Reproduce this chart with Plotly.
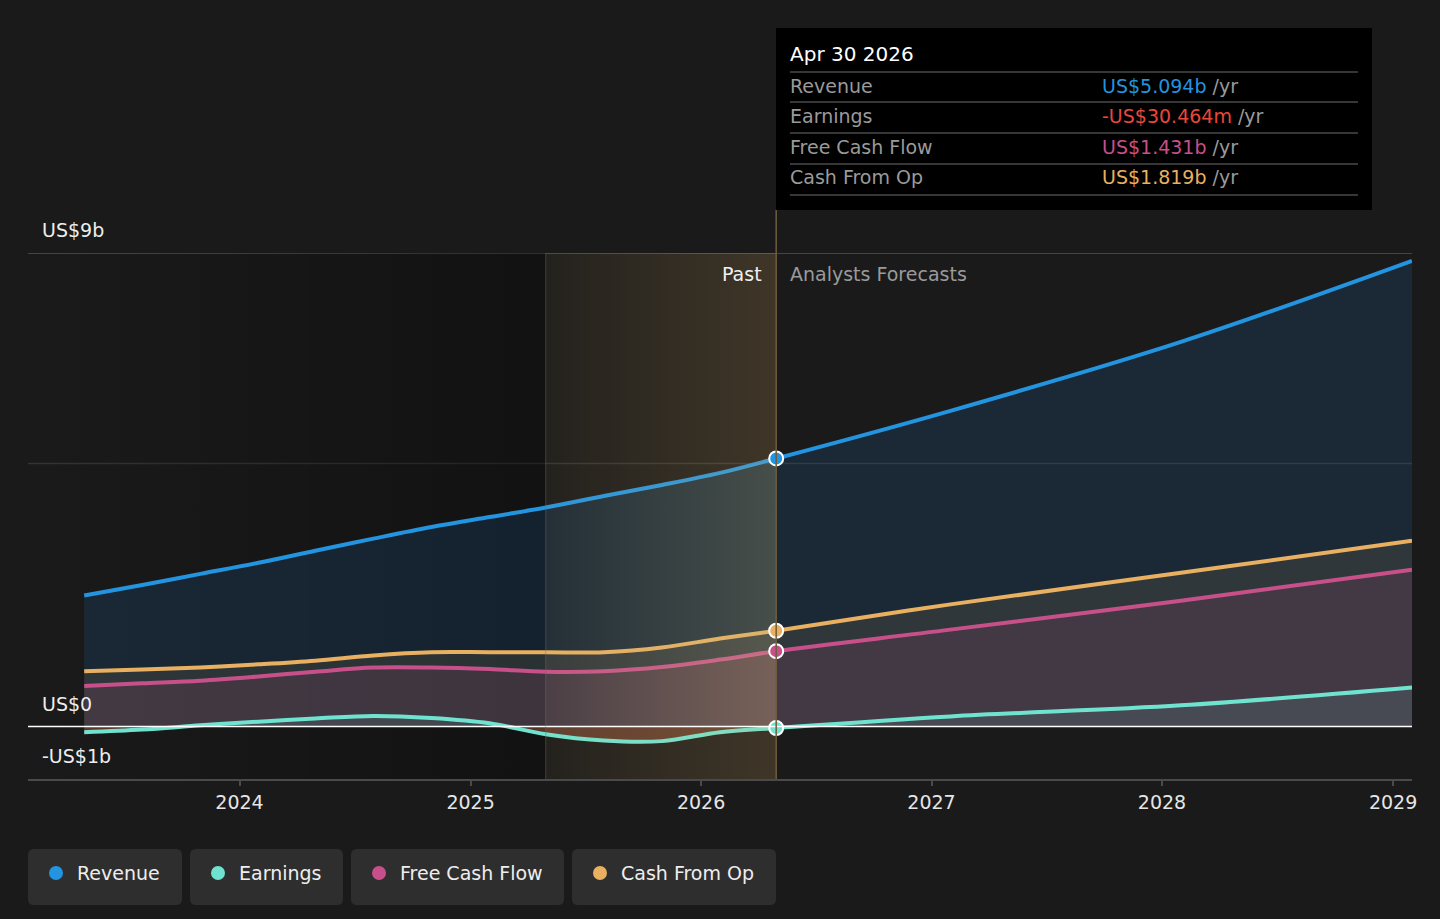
import plotly.graph_objects as go

# quarterly history + analyst forecasts (values in US$ billions)
past_dates = ["2023-04-30", "2023-07-31", "2023-10-31", "2024-01-31", "2024-04-30",
              "2024-07-31", "2024-10-31", "2025-01-31", "2025-04-30", "2025-07-31",
              "2025-10-31", "2026-01-31", "2026-04-30"]
forecast_dates = ["2027-01-31", "2028-01-31", "2029-01-31"]
dates = past_dates + forecast_dates

revenue = [2.49, 2.69, 2.90, 3.11, 3.34, 3.57, 3.79, 3.98, 4.16, 4.38, 4.59, 4.82, 5.094,
           6.00, 7.31, 8.85]
earnings = [-0.11, -0.06, 0.02, 0.09, 0.15, 0.20, 0.16, 0.06, -0.15, -0.27, -0.28, -0.11, -0.030464,
            0.19, 0.40, 0.74]
free_cash_flow = [0.77, 0.82, 0.87, 0.95, 1.04, 1.12, 1.12, 1.09, 1.04, 1.05, 1.13, 1.27, 1.431,
                  1.84, 2.39, 2.98]
cash_from_op = [1.05, 1.08, 1.12, 1.18, 1.25, 1.35, 1.41, 1.41, 1.41, 1.41, 1.50, 1.67, 1.819,
                2.32, 2.92, 3.53]

x_start, x_end = "2023-01-31", "2029-01-31"
band_start, now = "2025-04-30", "2026-04-30"
y_min, y_max = -1, 9
year_ticks = ["2024-01-01", "2025-01-01", "2026-01-01", "2027-01-01", "2028-01-01", "2029-01-01"]
year_labels = ["2024", "2025", "2026", "2027", "2028", "2029"]

BG = "#1a1a1a"
C_REV, C_EARN, C_FCF, C_CFO = "#2394df", "#6fe3d0", "#c7508a", "#e8b060"
FONT = "DejaVu Sans"

W, H = 1440, 919
L, R, T, B = 28, 28, 253, 140


def pxx(x):
    return (x - L) / (W - L - R)


def pxy(y):
    return (H - B - y) / (H - T - B)


def rounded(x0, y0, x1, y1, r):
    X, Y = pxx, pxy
    return (f"M {X(x0 + r)},{Y(y0)} L {X(x1 - r)},{Y(y0)} Q {X(x1)},{Y(y0)} {X(x1)},{Y(y0 + r)} "
            f"L {X(x1)},{Y(y1 - r)} Q {X(x1)},{Y(y1)} {X(x1 - r)},{Y(y1)} "
            f"L {X(x0 + r)},{Y(y1)} Q {X(x0)},{Y(y1)} {X(x0)},{Y(y1 - r)} "
            f"L {X(x0)},{Y(y0 + r)} Q {X(x0)},{Y(y0)} {X(x0 + r)},{Y(y0)} Z")


def money(v):
    sign = "-" if v < 0 else ""
    v = abs(v)
    if v < 1:
        return f"{sign}US${v * 1000:.3f}m"
    return f"{sign}US${v:.3f}b"


SPLINE = dict(shape="spline", smoothing=1.0)
fig = go.Figure()

# darker past background
fig.add_trace(go.Scatter(
    x=[x_start, band_start, band_start, x_start, x_start], y=[y_min, y_min, y_max, y_max, y_min],
    mode="none", fill="toself", hoverinfo="skip", showlegend=False,
    fillgradient=dict(type="horizontal",
                      colorscale=[[0, "rgba(0,0,0,0)"], [1, "rgba(0,0,0,0.32)"]])))


def area(y, color, fillcolor):
    fig.add_trace(go.Scatter(
        x=dates, y=y, mode="lines", line=dict(color=color, width=4, **SPLINE),
        fill="tozeroy", fillcolor=fillcolor, hoverinfo="skip", showlegend=False))


area(revenue, C_REV, "rgba(30,110,180,0.18)")
area(cash_from_op, C_CFO, "rgba(232,176,96,0.11)")
area(free_cash_flow, C_FCF, "rgba(199,80,138,0.13)")

neg_earn = [min(v, 0) for v in earnings]
fig.add_trace(go.Scatter(
    x=dates, y=neg_earn, mode="none", line=SPLINE,
    fill="tozeroy", fillcolor="rgba(200,60,30,0.38)", hoverinfo="skip", showlegend=False))
area(earnings, C_EARN, "rgba(111,227,208,0.10)")

# past-year highlight: brighten the filled areas, then tint the whole band
i0, i_now = dates.index(band_start), dates.index(now)
band_x = dates[i0:i_now + 1]


def band_boost(y, rgb, a):
    fig.add_trace(go.Scatter(
        x=band_x, y=y[i0:i_now + 1], mode="none", line=SPLINE, fill="tozeroy",
        hoverinfo="skip", showlegend=False,
        fillgradient=dict(type="horizontal",
                          colorscale=[[0, f"rgba({rgb},0)"], [1, f"rgba({rgb},{a})"]])))


band_boost(revenue, "120,190,210", 0.10)
band_boost(free_cash_flow, "230,130,110", 0.14)

fig.add_trace(go.Scatter(
    x=[band_start, now, now, band_start, band_start], y=[y_min, y_min, y_max, y_max, y_min],
    mode="none", fill="toself", hoverinfo="skip", showlegend=False,
    fillgradient=dict(type="horizontal",
                      colorscale=[[0, "rgba(230,180,100,0.05)"], [1, "rgba(230,180,100,0.18)"]])))

# markers at the current point
fig.add_trace(go.Scatter(
    x=[now] * 4,
    y=[revenue[i_now], cash_from_op[i_now], free_cash_flow[i_now], earnings[i_now]],
    mode="markers", hoverinfo="skip", showlegend=False,
    marker=dict(size=14, color=[C_REV, C_CFO, C_FCF, C_EARN], line=dict(color="white", width=2))))

shapes = [
    dict(type="line", xref="paper", yref="y", x0=0, x1=1, y0=9, y1=9, line=dict(color="#555", width=1.5), layer="below"),
    dict(type="line", xref="paper", yref="y", x0=0, x1=1, y0=5, y1=5, line=dict(color="#333", width=1.5), layer="below"),
    dict(type="line", xref="paper", yref="y", x0=0, x1=1, y0=0, y1=0, line=dict(color="white", width=1.5), layer="above"),
    dict(type="line", xref="x", yref="y", x0=band_start, x1=band_start, y0=y_min, y1=y_max,
         line=dict(color="rgba(120,110,95,0.45)", width=1), layer="above"),
    dict(type="line", xref="x", yref="paper", x0=now, x1=now, y0=0, y1=pxy(210),
         line=dict(color="#6e5d3e", width=1.5), layer="above"),
    # tooltip
    dict(type="rect", xref="paper", yref="paper", x0=pxx(776), x1=pxx(1372), y0=pxy(210), y1=pxy(28),
         fillcolor="#000", line=dict(width=0), layer="above"),
]
for sy in [72, 102, 133, 164, 195]:
    shapes.append(dict(type="line", xref="paper", yref="paper", x0=pxx(790), x1=pxx(1358),
                       y0=pxy(sy), y1=pxy(sy), line=dict(color="#4a4a4a", width=1.5), layer="above"))

annotations = [
    dict(text="US$9b", x=pxx(40), y=pxy(243)),
    dict(text="US$0", x=pxx(40), y=pxy(717)),
    dict(text="-US$1b", x=pxx(40), y=pxy(769)),
]
for a in annotations:
    a.update(xref="paper", yref="paper", xanchor="left", yanchor="bottom", showarrow=False,
             font=dict(size=19, color="#eeeeee", family=FONT))

annotations += [
    dict(text="Past", x=pxx(764), y=pxy(274), xanchor="right", font=dict(size=19, color="#f0f0f0", family=FONT)),
    dict(text="Analysts Forecasts", x=pxx(788), y=pxy(274), xanchor="left", font=dict(size=19, color="#9a9a9a", family=FONT)),
    dict(text="Apr 30 2026", x=pxx(788), y=pxy(54), xanchor="left", font=dict(size=20, color="#ffffff", family=FONT)),
]

tip_rows = [
    ("Revenue", revenue[i_now], C_REV),
    ("Earnings", earnings[i_now], "#e8473c" if earnings[i_now] < 0 else C_EARN),
    ("Free Cash Flow", free_cash_flow[i_now], C_FCF),
    ("Cash From Op", cash_from_op[i_now], C_CFO),
]
for (name, val, col), ry in zip(tip_rows, [86, 116, 147, 177]):
    annotations.append(dict(text=name, x=pxx(788), y=pxy(ry), xanchor="left",
                            font=dict(size=19, color="#9a9a9a", family=FONT)))
    annotations.append(dict(text=f'<span style="color:{col}">{money(val)}</span> /yr',
                            x=pxx(1100), y=pxy(ry), xanchor="left",
                            font=dict(size=19, color="#9a9a9a", family=FONT)))

# legend chips
legend_items = [("Revenue", C_REV, 28, 182), ("Earnings", C_EARN, 190, 343),
                ("Free Cash Flow", C_FCF, 351, 564), ("Cash From Op", C_CFO, 572, 776)]
for name, col, bx0, bx1 in legend_items:
    shapes.append(dict(type="path", xref="paper", yref="paper", path=rounded(bx0, 849, bx1, 905, 6),
                       fillcolor="#2e2e2e", line=dict(width=0), layer="above"))
    shapes.append(dict(type="circle", xref="paper", yref="paper",
                       x0=pxx(bx0 + 21), x1=pxx(bx0 + 35), y0=pxy(880), y1=pxy(866),
                       fillcolor=col, line=dict(width=0), layer="above"))
    annotations.append(dict(text=name, x=pxx(bx0 + 47), y=pxy(873), xanchor="left",
                            font=dict(size=19, color="#eeeeee", family=FONT)))

for a in annotations:
    a.setdefault("xref", "paper")
    a.setdefault("yref", "paper")
    a.setdefault("showarrow", False)
    a.setdefault("yanchor", "middle")

fig.update_layout(
    width=W, height=H,
    margin=dict(l=L, r=R, t=T, b=B),
    paper_bgcolor=BG, plot_bgcolor=BG,
    font=dict(family=FONT, color="#eeeeee"),
    hovermode=False,
    shapes=shapes,
    annotations=annotations,
    xaxis=dict(type="date", range=[x_start, x_end], tickvals=year_ticks, ticktext=year_labels,
               showgrid=False, zeroline=False, showline=True, linecolor="#4a4a4a", linewidth=1.5,
               ticks="outside", ticklen=5, tickcolor="#4a4a4a", tickwidth=1.5,
               tickfont=dict(size=19, color="#e6e6e6", family=FONT), fixedrange=True),
    yaxis=dict(range=[y_min, y_max], showgrid=False, zeroline=False, showticklabels=False,
               showline=False, fixedrange=True),
)

fig.write_html("out.html", config={"displayModeBar": False},
               post_script="document.body.style.margin='0';document.body.style.background='#1a1a1a';")
